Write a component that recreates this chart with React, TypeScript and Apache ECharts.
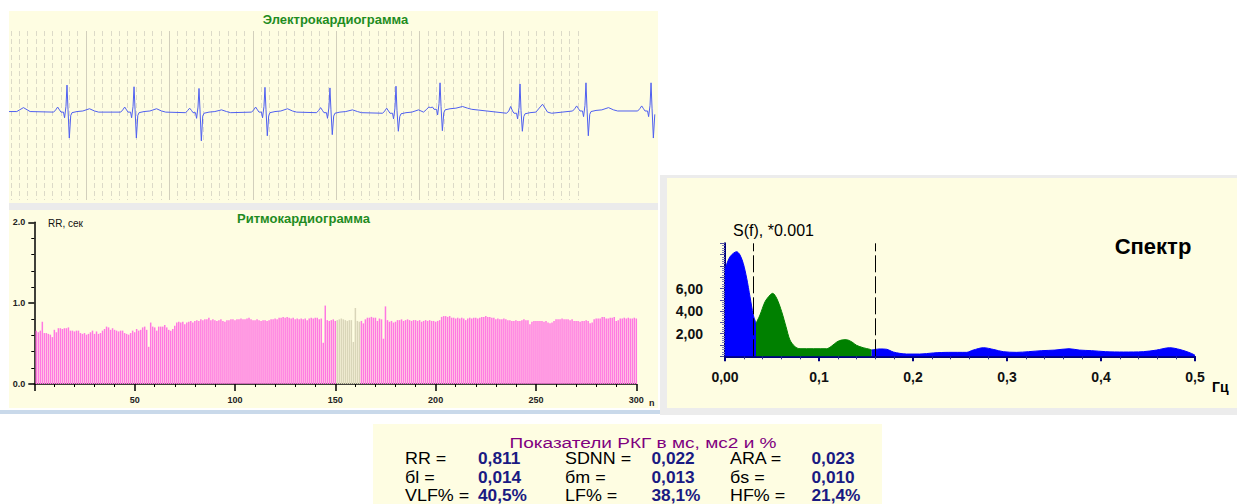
import React, { useEffect, useRef } from 'react';
import * as echarts from 'echarts';

const FONT = '"Liberation Sans", Arial, sans-serif';

// ---------- ECG (time in s, amplitude in mV) ----------
const ECG_R_TIMES = [0.772, 1.576, 2.355, 3.146, 3.925, 4.717, 5.245, 6.204, 6.995, 7.775];
const ECG_BASE = [0, 0, -0.01, 0, -0.01, -0.02, 0.05, -0.02, 0.02, 0.02];
const ECG_P = [0.09, 0.09, 0.08, 0.09, 0.09, 0.09, 0.03, 0.12, 0.09, 0.09];
const ECG_R = [0.48, 0.45, 0.43, 0.44, 0.44, 0.48, 0.47, 0.52, 0.5, 0.5];
const ECG_S = [-0.46, -0.46, -0.5, -0.42, -0.39, -0.32, -0.38, -0.32, -0.44, -0.48];
const ECG_T = [0.06, 0.06, 0.05, 0.06, 0.05, 0.06, 0.05, 0.16, 0.06, 0.06];
const ECG_TEMPLATE: [number, number | string][] = [
  [-0.16, 0], [-0.135, 0.04], [-0.112, 'P'], [-0.09, 0.04], [-0.072, 0], [-0.042, 0],
  [-0.029, -0.1], [-0.012, 0.1], [0, 'R'], [0.012, 0.05], [0.028, 'S'], [0.045, -0.06],
  [0.06, -0.01], [0.12, 0.01], [0.19, 0.02], [0.27, 'T'], [0.33, 0.02], [0.38, 0],
];
const ECG_LEAD: [number, number][] = [[0.077, 0.01], [0.17, 0.01], [0.25, 0.08], [0.33, 0.01]];
const ECG_END = 7.822;

// ---------- Rhythmogram ----------
const RR_VALUES = [
  0.66, 0.64, 0.66, 0.77, 0.63, 0.63, 0.62, 0.61, 0.58, 0.67,
  0.64, 0.69, 0.69, 0.68, 0.69, 0.69, 0.70, 0.66, 0.66, 0.65,
  0.66, 0.66, 0.63, 0.62, 0.63, 0.61, 0.62, 0.64, 0.66, 0.62,
  0.65, 0.62, 0.63, 0.66, 0.68, 0.71, 0.70, 0.67, 0.69, 0.67,
  0.66, 0.65, 0.66, 0.66, 0.63, 0.62, 0.61, 0.63, 0.66, 0.64,
  0.68, 0.66, 0.67, 0.70, 0.71, 0.67, 0.46, 0.76, 0.71, 0.70,
  0.66, 0.71, 0.71, 0.71, 0.73, 0.70, 0.67, 0.66, 0.68, 0.72,
  0.76, 0.77, 0.76, 0.77, 0.74, 0.76, 0.77, 0.78, 0.76, 0.78,
  0.79, 0.78, 0.80, 0.79, 0.80, 0.80, 0.82, 0.79, 0.80, 0.79,
  0.78, 0.79, 0.80, 0.78, 0.77, 0.79, 0.79, 0.80, 0.80, 0.79,
  0.80, 0.80, 0.81, 0.80, 0.80, 0.81, 0.82, 0.80, 0.79, 0.79,
  0.80, 0.79, 0.78, 0.79, 0.79, 0.78, 0.79, 0.80, 0.80, 0.81,
  0.80, 0.82, 0.82, 0.83, 0.82, 0.83, 0.82, 0.81, 0.82, 0.80,
  0.81, 0.80, 0.81, 0.80, 0.81, 0.79, 0.81, 0.82, 0.81, 0.82,
  0.82, 0.80, 0.81, 0.51, 0.97, 0.79, 0.78, 0.79, 0.80, 0.78,
  0.79, 0.80, 0.81, 0.80, 0.79, 0.78, 0.79, 0.79, 0.52, 0.94,
  0.78, 0.77, 0.78, 0.75, 0.80, 0.82, 0.82, 0.83, 0.82, 0.82,
  0.78, 0.81, 0.80, 0.56, 0.96, 0.79, 0.77, 0.78, 0.76, 0.77,
  0.79, 0.79, 0.80, 0.78, 0.79, 0.80, 0.79, 0.78, 0.79, 0.79,
  0.78, 0.79, 0.77, 0.78, 0.79, 0.78, 0.79, 0.78, 0.78, 0.77,
  0.78, 0.79, 0.83, 0.84, 0.84, 0.83, 0.84, 0.82, 0.82, 0.81,
  0.82, 0.81, 0.82, 0.81, 0.79, 0.81, 0.82, 0.81, 0.82, 0.82,
  0.81, 0.82, 0.83, 0.83, 0.84, 0.83, 0.83, 0.82, 0.82, 0.80,
  0.81, 0.80, 0.80, 0.81, 0.80, 0.79, 0.79, 0.78, 0.78, 0.79,
  0.78, 0.78, 0.79, 0.80, 0.79, 0.79, 0.74, 0.77, 0.78, 0.78,
  0.78, 0.78, 0.78, 0.77, 0.78, 0.76, 0.75, 0.76, 0.78, 0.80,
  0.80, 0.80, 0.81, 0.80, 0.80, 0.80, 0.79, 0.80, 0.78, 0.78,
  0.78, 0.77, 0.78, 0.78, 0.79, 0.78, 0.75, 0.76, 0.80, 0.81,
  0.81, 0.81, 0.83, 0.83, 0.81, 0.81, 0.82, 0.82, 0.83, 0.78,
  0.79, 0.81, 0.81, 0.82, 0.81, 0.82, 0.81, 0.81, 0.82, 0.81,
];
const RR_GRAY_FROM = 151;
const RR_GRAY_TO = 162;

// ---------- Spectrum ----------
const VLF_F = [0, 0.0053, 0.0124, 0.016, 0.0195, 0.0231, 0.0266, 0.0301, 0.033];
const VLF_S = [7.7, 8.8, 9.26, 8.96, 8.2, 6.9, 5.27, 3.65, 2.92];
const LF_F = [0.033, 0.0372, 0.0426, 0.0479, 0.0507, 0.055, 0.0603, 0.0649, 0.0691, 0.0745, 0.0798, 0.108, 0.1135, 0.119, 0.124, 0.129, 0.135, 0.14, 0.147, 0.154, 0.156];
const LF_S = [2.92, 3.65, 4.83, 5.42, 5.57, 5.13, 3.95, 2.62, 1.44, 0.85, 0.67, 0.67, 0.91, 1.27, 1.44, 1.47, 1.27, 0.97, 0.76, 0.62, 0.56];
const HF_F = [0.156, 0.165, 0.172, 0.179, 0.186, 0.193, 0.207, 0.222, 0.238, 0.257, 0.264, 0.275, 0.286, 0.296, 0.31, 0.323, 0.337, 0.351, 0.366, 0.377, 0.39, 0.405, 0.424, 0.445, 0.459, 0.473, 0.484, 0.495, 0.5];
const HF_S = [0.56, 0.65, 0.62, 0.38, 0.26, 0.2, 0.2, 0.3, 0.35, 0.35, 0.55, 0.76, 0.6, 0.41, 0.35, 0.41, 0.5, 0.55, 0.67, 0.55, 0.5, 0.41, 0.38, 0.41, 0.55, 0.76, 0.6, 0.3, 0.1];
const SPEC_BOUNDS = [0.033, 0.156];
const SPEC_Y_LABELS = [2, 4, 6];

// ---------- Table ----------
const TABLE_TITLE = 'Показатели РКГ в мс, мс2 и %';
const TABLE_LABELS = [
  ['RR =', 'SDNN =', 'ARA ='],
  ['бl =', 'бm =', 'бs ='],
  ['VLF% =', 'LF% =', 'HF% ='],
];
const TABLE_VALUES = [
  ['0,811', '0,022', '0,023'],
  ['0,014', '0,013', '0,010'],
  ['40,5%', '38,1%', '21,4%'],
];

const PANEL = '#fefde2';

function buildEcg(): number[][] {
  const pts: number[][] = ECG_LEAD.map((p) => [p[0], p[1]]);
  ECG_R_TIMES.forEach((t0, i) => {
    const nextStart = i + 1 < ECG_R_TIMES.length ? ECG_R_TIMES[i + 1] + ECG_TEMPLATE[0][0] : Infinity;
    ECG_TEMPLATE.forEach(([dt, v]) => {
      const t = t0 + dt;
      if (t >= nextStart || t > ECG_END) return;
      let val: number;
      if (v === 'P') val = ECG_P[i];
      else if (v === 'R') val = ECG_R[i];
      else if (v === 'S') val = ECG_S[i];
      else if (v === 'T') val = ECG_T[i];
      else val = v as number;
      pts.push([t, ECG_BASE[i] + val]);
    });
  });
  return pts;
}

function txt(text: string, x: number, y: number, size: number, o: any = {}) {
  const align = o.align || 'left';
  return {
    type: 'text',
    x,
    y,
    z: 20,
    scaleX: o.scaleX || 1,
    silent: true,
    style: {
      text,
      fill: o.color || '#000',
      fontSize: size,
      fontWeight: o.bold ? 'bold' : 'normal',
      fontFamily: FONT,
      align,
      textAlign: align,
      verticalAlign: 'middle',
      textVerticalAlign: 'middle',
    },
  };
}

function rect(x: number, y: number, w: number, h: number, fill: string) {
  return { type: 'rect', z: -10, silent: true, shape: { x, y, width: w, height: h }, style: { fill } };
}

export default function App() {
  const ref = useRef<HTMLDivElement>(null);
  useEffect(() => {
    const chart = echarts.init(ref.current!, null, { renderer: 'svg' });

    const ecg = buildEcg();
    const rr = RR_VALUES.map((v, i) => {
      const n = i + 1;
      const gray = n >= RR_GRAY_FROM && n <= RR_GRAY_TO;
      return {
        value: [n, v],
        itemStyle: gray ? { color: '#d9d5b9' } : { color: '#ff78e2' },
      };
    });
    const vlf = VLF_F.map((f, i) => [f, VLF_S[i]]);
    const lf = LF_F.map((f, i) => [f, LF_S[i]]);
    const hf = HF_F.map((f, i) => [f, HF_S[i]]);

    const graphics: any[] = [
      rect(9, 11, 649, 192, PANEL),
      rect(9, 203, 649, 7, '#ebebeb'),
      rect(9, 210, 649, 198, PANEL),
      rect(0, 410, 660, 4, '#c9d9ea'),
      rect(660, 175, 577, 240, '#ececec'),
      rect(667, 178, 570, 230, PANEL),
      rect(373, 424, 509, 80, PANEL),
      txt('Электрокардиограмма', 335.5, 19, 13, { bold: true, color: '#1f8c1f', align: 'center' }),
      txt('Ритмокардиограмма', 303.5, 218, 13, { bold: true, color: '#1f8c1f', align: 'center' }),
      txt('RR, сек', 48, 223, 10, { color: '#111' }),
      txt('n', 649, 403, 9, { bold: true, color: '#222' }),
      txt('S(f), *0.001', 733, 230, 16, { color: '#000' }),
      txt('Спектр', 1153, 246, 22, { bold: true, color: '#000', align: 'center' }),
      txt('Гц', 1212, 387, 14, { bold: true, color: '#000' }),
      txt(TABLE_TITLE, 643, 443, 15, { color: '#800080', align: 'center', scaleX: 1.27 }),
    ];
    const colX = [[405, 478], [565, 651.5], [730, 811.5]];
    const rowY = [459, 477.5, 496];
    TABLE_LABELS.forEach((row, r) => {
      row.forEach((label, c) => {
        graphics.push(txt(label, colX[c][0], rowY[r], 16, { color: '#000', scaleX: 1.12 }));
        graphics.push(txt(TABLE_VALUES[r][c], colX[c][1], rowY[r], 16, { color: '#1a1a82', bold: true, scaleX: 1.08 }));
      });
    });

    const labelFont = { fontFamily: FONT };
    const gridColor = '#dcdac8';

    chart.setOption({
      animation: false,
      backgroundColor: '#ffffff',
      graphic: { elements: graphics },
      grid: [
        { left: 2.6, top: 31, width: 583.8, height: 169, outerBoundsMode: 'none' },
        { left: 2.6, top: 31, width: 667.2, height: 169, outerBoundsMode: 'none' },
        { left: 34.3, top: 222.3, width: 602, height: 161.7, outerBoundsMode: 'none' },
        { left: 725, top: 243.3, width: 470, height: 113, outerBoundsMode: 'none' },
      ],
      xAxis: [
        {
          gridIndex: 0, type: 'value', min: 0, max: 7, interval: 1,
          axisLine: { show: false }, axisTick: { show: false }, axisLabel: { show: false },
          splitLine: { show: true, showMinLine: false, showMaxLine: false, lineStyle: { color: '#d2cfbc', width: 1 } },
          minorTick: { show: false, splitNumber: 10 },
          minorSplitLine: { show: true, lineStyle: { color: gridColor, width: 1, type: [5, 3] } },
        },
        { gridIndex: 1, type: 'value', min: 0, max: 8, show: false },
        {
          gridIndex: 2, type: 'value', min: 0, max: 300, interval: 50,
          axisLine: { show: true, onZero: false, lineStyle: { color: '#000', width: 1.5 } },
          axisTick: { show: true, length: 7, lineStyle: { color: '#000', width: 1.5 } },
          minorTick: { show: true, splitNumber: 5, length: 3, lineStyle: { color: '#000', width: 1 } },
          splitLine: { show: false },
          axisLabel: { ...labelFont, margin: 11, fontSize: 9, fontWeight: 'bold', color: '#222', formatter: (v: number) => (v === 0 ? '' : String(v)) },
        },
        {
          gridIndex: 3, type: 'value', min: 0, max: 0.5, interval: 0.1,
          axisLine: { show: true, onZero: false, lineStyle: { color: '#00007f', width: 2 } },
          axisTick: { show: true, length: 5, lineStyle: { color: '#00007f', width: 2 } },
          minorTick: { show: true, splitNumber: 5, length: 3, lineStyle: { color: '#2a2a90', width: 1 } },
          splitLine: { show: false },
          axisLabel: { ...labelFont, margin: 14, fontSize: 14, fontWeight: 'bold', color: '#111', formatter: (v: number) => (v === 0 ? '0,00' : v.toFixed(1).replace('.', ',')) },
        },
      ],
      yAxis: [
        { gridIndex: 0, type: 'value', min: 0, max: 1, show: false },
        { gridIndex: 1, type: 'value', min: -1.56, max: 1.44, show: false },
        {
          gridIndex: 2, type: 'value', min: 0, max: 2, interval: 1,
          axisLine: { show: true, lineStyle: { color: '#000', width: 1.5 } },
          axisTick: { show: true, length: 6, lineStyle: { color: '#000', width: 1.5 } },
          minorTick: { show: true, splitNumber: 5, length: 3, lineStyle: { color: '#000', width: 1 } },
          splitLine: { show: false },
          axisLabel: { ...labelFont, margin: 9, fontSize: 9, fontWeight: 'bold', color: '#222', formatter: (v: number) => v.toFixed(1) },
        },
        {
          gridIndex: 3, type: 'value', min: 0, max: 10, interval: 1,
          axisLine: { show: true, lineStyle: { color: '#00007f', width: 2 } },
          axisTick: { show: true, length: 5, lineStyle: { color: '#50509c', width: 1 } },
          minorTick: { show: true, splitNumber: 5, length: 3, lineStyle: { color: '#7a7ab4', width: 1 } },
          splitLine: { show: false },
          axisLabel: {
            ...labelFont, margin: 22, fontSize: 14, fontWeight: 'bold', color: '#111', padding: [0, 0, 7, 0],
            formatter: (v: number) => (SPEC_Y_LABELS.some((l) => Math.abs(l - v) < 1e-6) ? v.toFixed(2).replace('.', ',') : ''),
          },
        },
      ],
      series: [
        { type: 'line', xAxisIndex: 0, yAxisIndex: 0, data: [], silent: true },
        {
          type: 'line', xAxisIndex: 1, yAxisIndex: 1, data: ecg, symbol: 'none', showSymbol: false, silent: true,
          lineStyle: { color: '#4f5ff0', width: 1 },
        },
        {
          type: 'bar', xAxisIndex: 2, yAxisIndex: 2, data: rr, barWidth: 1.5, silent: true,
        },
        {
          type: 'line', xAxisIndex: 3, yAxisIndex: 3, data: vlf, symbol: 'none', smooth: 0.3, silent: true,
          lineStyle: { color: '#0000ff', width: 1 }, areaStyle: { color: '#0000ff', opacity: 1 },
        },
        {
          type: 'line', xAxisIndex: 3, yAxisIndex: 3, data: lf, symbol: 'none', smooth: 0.3, silent: true,
          lineStyle: { color: '#008000', width: 1 }, areaStyle: { color: '#008000', opacity: 1 },
          markLine: {
            silent: true, symbol: 'none', label: { show: false },
            lineStyle: { color: '#000', width: 1, type: [17, 4] },
            data: SPEC_BOUNDS.map((f) => ({ xAxis: f })),
          },
        },
        {
          type: 'line', xAxisIndex: 3, yAxisIndex: 3, data: hf, symbol: 'none', smooth: 0.3, silent: true,
          lineStyle: { color: '#0000ff', width: 1 }, areaStyle: { color: '#0000ff', opacity: 1 },
        },
      ],
    });
    return () => chart.dispose();
  }, []);
  return <div ref={ref} style={{ position: 'absolute', left: 0, top: 0, width: 1237, height: 504 }} />;
}
